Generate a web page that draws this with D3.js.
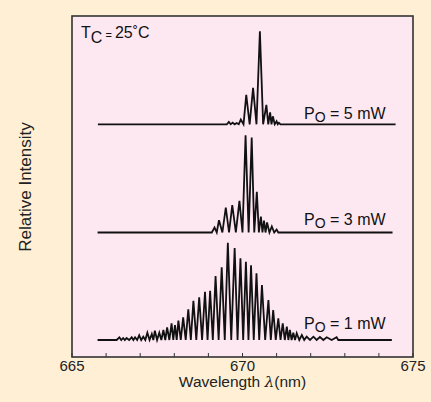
<!DOCTYPE html>
<html><head><meta charset="utf-8">
<script src="https://cdn.jsdelivr.net/npm/d3@7"></script>
<style>
html,body{margin:0;padding:0;background:#FFF0D5;}
svg{display:block;font-family:"Liberation Sans",Arial,sans-serif;}
</style></head>
<body>
<svg id="c" width="431" height="402"></svg>
<script>
// x-axis ticks (nm)
const xTicks = [665,666,667,668,669,670,671,672,673,674,675];
const xTickLabels = [665,670,675];

// series: baseline extent, offset, mode wavelengths and relative heights
const seriesNames = ["1 mW","3 mW","5 mW"];
const offsets = [0.17, 1.245, 2.327];
const baseStart = [665.75, 665.75, 665.76];
const baseEnd = [674.38, 674.40, 674.49];
const wiggleStart = [666.31, 669.10, 669.54];
const wiggleEnd = [672.86, 671.10, 671.16];

const wl1 = [666.39,666.50,666.60,666.75,666.85,666.97,667.09,667.21,667.34,667.43,667.56,667.68,667.79,667.92,668.02,668.12,668.26,668.41,668.56,668.73,668.90,669.05,669.21,669.39,669.57,669.77,669.94,670.10,670.25,670.41,670.57,670.76,670.90,671.05,671.18,671.30,671.39,671.49,671.59,671.74,671.88,672.08,672.27,672.47,672.76];
const in1 = [0.027,0.02,0.02,0.027,0.027,0.047,0.033,0.073,0.06,0.093,0.073,0.10,0.127,0.167,0.15,0.193,0.227,0.307,0.393,0.427,0.483,0.493,0.64,0.727,0.973,0.92,0.817,0.783,0.747,0.667,0.55,0.40,0.30,0.217,0.167,0.133,0.10,0.073,0.067,0.05,0.033,0.033,0.03,0.027,0.027];

const wl3 = [669.18,669.31,669.51,669.70,669.91,670.09,670.27,670.42,670.54,670.63,670.72,670.86,671.00];
const in3 = [0.05,0.123,0.25,0.273,0.317,0.973,0.95,0.407,0.16,0.12,0.10,0.06,0.03];

const wl5 = [669.60,669.71,669.83,669.95,670.11,670.31,670.51,670.70,670.81,670.89,671.00,671.07];
const in5 = [0.023,0.017,0.013,0.047,0.295,0.365,0.93,0.195,0.12,0.08,0.03,0.015];

const wls = [wl1, wl3, wl5];
const ins = [in1, in3, in5];
const labelSub = "O";

const W = 431, H = 402;
const m = {l:72, t:16, r:18, b:45};
const pw = W - m.l - m.r, ph = H - m.t - m.b;

const x = d3.scaleLinear().domain([665,675]).range([m.l, m.l+pw]);
const y = d3.scaleLinear().domain([0,3.41]).range([m.t+ph, m.t]);

const svg = d3.select("#c");
svg.append("rect").attr("x",m.l).attr("y",m.t).attr("width",pw).attr("height",ph)
  .attr("fill","#FDE8F1");

const line = d3.line().x(d=>x(d[0])).y(d=>y(d[1]));

wls.forEach((wl,i)=>{
  const off = offsets[i];
  const pts = [[baseStart[i],off],[wiggleStart[i],off]];
  let prev = wiggleStart[i];
  wl.forEach((w,j)=>{
    if(j>0) pts.push([(prev+w)/2, off]);
    pts.push([w, off+ins[i][j]]);
    prev = w;
  });
  pts.push([(prev+wiggleEnd[i])/2, off]);
  pts.push([wiggleEnd[i],off]);
  pts.push([baseEnd[i],off]);
  svg.append("path").datum(pts).attr("d",line).attr("fill","none")
    .attr("stroke","#111").attr("stroke-width",1.8).attr("stroke-linejoin","miter");
});

// labels
const labelY = [329, 225, 119];
seriesNames.forEach((n,i)=>{
  const t = svg.append("text").attr("x",304).attr("y",labelY[i]).attr("font-size",16).attr("fill","#111");
  t.append("tspan").text("P");
  t.append("tspan").attr("dy",3).attr("font-size",14).text(labelSub);
  t.append("tspan").attr("dy",-3).text(" = "+n);
});

// frame
svg.append("rect").attr("x",m.l).attr("y",m.t).attr("width",pw).attr("height",ph)
  .attr("fill","none").attr("stroke","#333").attr("stroke-width",1.6);

// ticks inside
svg.append("g").selectAll("line").data(xTicks).join("line")
  .attr("x1",d=>x(d)).attr("x2",d=>x(d)).attr("y1",m.t+ph).attr("y2",m.t+ph-4)
  .attr("stroke","#333").attr("stroke-width",1);
svg.append("g").selectAll("text").data(xTickLabels).join("text")
  .attr("x",d=>x(d)).attr("y",m.t+ph+14).attr("text-anchor","middle")
  .attr("font-size",15).attr("fill","#222").text(d=>d);

// x title
const xt = svg.append("text").attr("x",x(670)).attr("y",387).attr("text-anchor","middle")
  .attr("font-size",15.5).attr("fill","#222");
xt.append("tspan").text("Wavelength  ");
xt.append("tspan").attr("font-style","italic").attr("font-family","DejaVu Serif").text("λ");
xt.append("tspan").text("(nm)");

// y title
svg.append("text").attr("transform","translate(30.5,187) rotate(-90)").attr("text-anchor","middle")
  .attr("font-size",17).attr("fill","#222").text("Relative Intensity");

// Tc annotation
const tc = svg.append("text").attr("x",81).attr("y",37.5).attr("font-size",16).attr("fill","#111");
tc.append("tspan").text("T");
tc.append("tspan").attr("dy",5.5).text("C");
tc.append("tspan").attr("dy",-4.5).attr("font-size",11).text(" = ");
tc.append("tspan").attr("dy",-1).text("25˚C");
</script>
</body></html>
